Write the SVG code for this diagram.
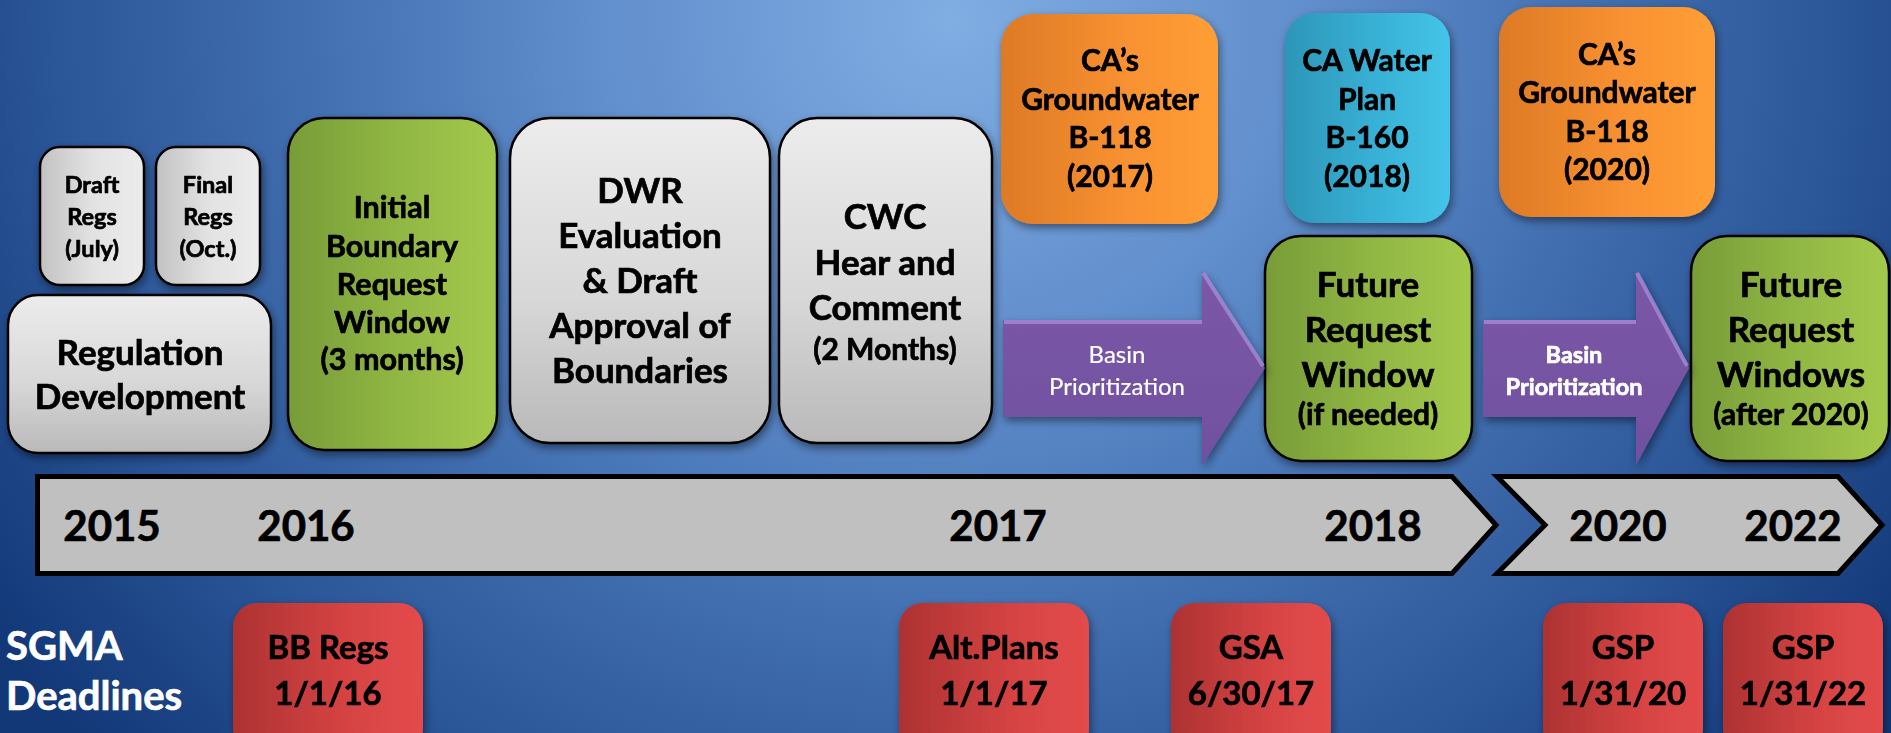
<svg xmlns="http://www.w3.org/2000/svg" width="1891" height="733" viewBox="0 0 1891 733">
<defs>
<radialGradient id="bg" gradientUnits="userSpaceOnUse" cx="950" cy="20" r="1150" gradientTransform="translate(950 20) scale(1 0.95) translate(-950 -20)">
<stop offset="0" stop-color="#80ade2"/>
<stop offset="0.3" stop-color="#628fcd"/>
<stop offset="0.55" stop-color="#4370b1"/>
<stop offset="0.78" stop-color="#2a5597"/>
<stop offset="1" stop-color="#123878"/>
</radialGradient>
<linearGradient id="grayH" x1="0" y1="0" x2="1" y2="0">
<stop offset="0" stop-color="#c2c2c2"/>
<stop offset="0.5" stop-color="#e2e2e2"/>
<stop offset="1" stop-color="#ececec"/>
</linearGradient>
<linearGradient id="grayV" x1="0" y1="0" x2="0" y2="1">
<stop offset="0" stop-color="#ececec"/>
<stop offset="0.55" stop-color="#d8d8d8"/>
<stop offset="1" stop-color="#b9b9b9"/>
</linearGradient>
<linearGradient id="green" x1="0" y1="0" x2="1" y2="0">
<stop offset="0" stop-color="#789c38"/>
<stop offset="0.6" stop-color="#94ba45"/>
<stop offset="1" stop-color="#a3c94c"/>
</linearGradient>
<linearGradient id="orange" x1="0" y1="0" x2="1" y2="0">
<stop offset="0" stop-color="#dd7a26"/>
<stop offset="0.6" stop-color="#f99231"/>
<stop offset="1" stop-color="#ff9e36"/>
</linearGradient>
<linearGradient id="cyan" x1="0" y1="0" x2="1" y2="0">
<stop offset="0" stop-color="#2c96b8"/>
<stop offset="0.6" stop-color="#39b3d8"/>
<stop offset="1" stop-color="#44c4e8"/>
</linearGradient>
<linearGradient id="red" x1="0" y1="0" x2="1" y2="0">
<stop offset="0" stop-color="#ad3232"/>
<stop offset="0.6" stop-color="#d64343"/>
<stop offset="1" stop-color="#e34b4b"/>
</linearGradient>
<linearGradient id="purple" x1="0" y1="0" x2="0" y2="1">
<stop offset="0" stop-color="#7c58a7"/>
<stop offset="1" stop-color="#7050a0"/>
</linearGradient>
<filter id="sh" x="-20%" y="-20%" width="140%" height="140%">
<feDropShadow dx="2" dy="4" stdDeviation="4" flood-color="#000" flood-opacity="0.45"/>
</filter>
<style>
.g{stroke:#000;stroke-width:2.5}
.t{font-family:Lato,"Liberation Sans",sans-serif;font-weight:bold;fill:#000;stroke:#000;stroke-width:0.7;text-anchor:middle}
.w{fill:#fff;stroke:#fff}
.n{font-weight:normal;stroke-width:0.2}
.bar{fill:#c0c0c0;stroke:#000;stroke-width:5;stroke-linejoin:miter}
.hl{fill:none;stroke:#a88ad6;stroke-width:4;stroke-opacity:0.8}
</style>
</defs>
<rect x="0" y="0" width="1891" height="733" fill="url(#bg)"/>

<g id="timeline">
<path class="bar" d="M37.5 476.5 H1452 L1496 525 L1452 573.5 H37.5 Z"/>
<path class="bar" d="M1497 476.5 H1838 L1882 525 L1838 573.5 H1497 L1545 525 Z"/>
<g class="t" font-size="42">
<text x="112" y="541">2015</text>
<text x="306" y="541">2016</text>
<text x="998" y="541">2017</text>
<text x="1373" y="541">2018</text>
<text x="1618" y="541">2020</text>
<text x="1793" y="541">2022</text>
</g>
</g>

<g id="draft-regs" filter="url(#sh)">
<rect class="g" x="40" y="147" width="104" height="138" rx="20" fill="url(#grayH)"/>
<text class="t" font-size="23.5"><tspan x="92" y="193">Draft</tspan><tspan x="92" y="225">Regs</tspan><tspan x="92" y="257">(July)</tspan></text>
</g>
<g id="final-regs" filter="url(#sh)">
<rect class="g" x="156" y="147" width="104" height="138" rx="20" fill="url(#grayH)"/>
<text class="t" font-size="23.5"><tspan x="208" y="193">Final</tspan><tspan x="208" y="225">Regs</tspan><tspan x="208" y="257">(Oct.)</tspan></text>
</g>
<g id="regulation-development" filter="url(#sh)">
<rect class="g" x="8" y="295" width="263" height="158" rx="30" fill="url(#grayV)"/>
<text class="t" font-size="35"><tspan x="140" y="365">Regulation</tspan><tspan x="140" y="409">Development</tspan></text>
</g>
<g id="initial-boundary" filter="url(#sh)">
<rect class="g" x="288" y="118" width="209" height="332" rx="36" fill="url(#green)"/>
<text class="t" font-size="30.5"><tspan x="392" y="218">Initial</tspan><tspan x="392" y="257">Boundary</tspan><tspan x="392" y="295">Request</tspan><tspan x="392" y="333">Window</tspan><tspan x="392" y="370">(3 months)</tspan></text>
</g>
<g id="dwr-evaluation" filter="url(#sh)">
<rect class="g" x="510" y="118" width="260" height="325" rx="40" fill="url(#grayV)"/>
<text class="t" font-size="35"><tspan x="640" y="203">DWR</tspan><tspan x="640" y="248">Evaluation</tspan><tspan x="640" y="293">&amp; Draft</tspan><tspan x="640" y="338">Approval of</tspan><tspan x="640" y="383">Boundaries</tspan></text>
</g>
<g id="cwc" filter="url(#sh)">
<rect class="g" x="779" y="118" width="213" height="325" rx="38" fill="url(#grayV)"/>
<text class="t" font-size="35"><tspan x="885" y="229">CWC</tspan><tspan x="885" y="275">Hear and</tspan><tspan x="885" y="320">Comment</tspan><tspan x="885" y="360" font-size="30">(2 Months)</tspan></text>
</g>
<g id="b118-2017" filter="url(#sh)">
<rect x="1001" y="14" width="217" height="210" rx="32" fill="url(#orange)"/>
<text class="t" font-size="30"><tspan x="1110" y="71">CA’s</tspan><tspan x="1110" y="110">Groundwater</tspan><tspan x="1110" y="148">B-118</tspan><tspan x="1110" y="187">(2017)</tspan></text>
</g>
<g id="b160-2018" filter="url(#sh)">
<rect x="1285" y="13" width="165" height="210" rx="30" fill="url(#cyan)"/>
<text class="t" font-size="30"><tspan x="1367" y="71">CA Water</tspan><tspan x="1367" y="110">Plan</tspan><tspan x="1367" y="148">B-160</tspan><tspan x="1367" y="187">(2018)</tspan></text>
</g>
<g id="b118-2020" filter="url(#sh)">
<rect x="1499" y="7" width="216" height="210" rx="32" fill="url(#orange)"/>
<text class="t" font-size="30"><tspan x="1607" y="65">CA’s</tspan><tspan x="1607" y="103">Groundwater</tspan><tspan x="1607" y="142">B-118</tspan><tspan x="1607" y="180">(2020)</tspan></text>
</g>
<g id="future-request-window" filter="url(#sh)">
<rect class="g" x="1265" y="236" width="207" height="225" rx="36" fill="url(#green)"/>
<text class="t" font-size="35"><tspan x="1368" y="297">Future</tspan><tspan x="1368" y="342">Request</tspan><tspan x="1368" y="387">Window</tspan><tspan x="1368" y="425" font-size="30">(if needed)</tspan></text>
</g>
<g id="future-request-windows" filter="url(#sh)">
<rect class="g" x="1691" y="236" width="198" height="225" rx="36" fill="url(#green)"/>
<text class="t" font-size="35"><tspan x="1791" y="297">Future</tspan><tspan x="1791" y="342">Request</tspan><tspan x="1791" y="387">Windows</tspan><tspan x="1791" y="425" font-size="30">(after 2020)</tspan></text>
</g>

<g id="connectors">
<g id="basin-prioritization-1" filter="url(#sh)">
<path d="M1003 320 H1202 V271 L1265 368 L1202 465 V417 H1003 Z" fill="url(#purple)"/>
<path class="hl" d="M1004 322 H1202 M1203 273 L1263 366"/>
<text class="t w n" font-size="24"><tspan x="1117" y="363">Basin</tspan><tspan x="1117" y="395">Prioritization</tspan></text>
</g>
<g id="basin-prioritization-2" filter="url(#sh)">
<path d="M1483 320 H1636 V271 L1689 368 L1636 465 V417 H1483 Z" fill="url(#purple)"/>
<path class="hl" d="M1484 322 H1636 M1637 273 L1687 366"/>
<text class="t w" font-size="23.5"><tspan x="1574" y="363">Basin</tspan><tspan x="1574" y="395">Prioritization</tspan></text>
</g>
</g>

<g id="sgma-deadlines">
<text class="t w" font-size="40" style="text-anchor:start"><tspan x="6" y="660">SGMA</tspan><tspan x="6" y="710">Deadlines</tspan></text>
</g>
<g id="bb-regs" filter="url(#sh)">
<rect x="233" y="603" width="190" height="150" rx="24" fill="url(#red)"/>
<text class="t" font-size="33"><tspan x="328" y="659">BB Regs</tspan><tspan x="328" y="705">1/1/16</tspan></text>
</g>
<g id="alt-plans" filter="url(#sh)">
<rect x="899" y="603" width="190" height="150" rx="24" fill="url(#red)"/>
<text class="t" font-size="33"><tspan x="994" y="659">Alt.Plans</tspan><tspan x="994" y="705">1/1/17</tspan></text>
</g>
<g id="gsa" filter="url(#sh)">
<rect x="1171" y="603" width="160" height="150" rx="24" fill="url(#red)"/>
<text class="t" font-size="33"><tspan x="1251" y="659">GSA</tspan><tspan x="1251" y="705">6/30/17</tspan></text>
</g>
<g id="gsp-2020" filter="url(#sh)">
<rect x="1543" y="603" width="160" height="150" rx="24" fill="url(#red)"/>
<text class="t" font-size="33"><tspan x="1623" y="659">GSP</tspan><tspan x="1623" y="705">1/31/20</tspan></text>
</g>
<g id="gsp-2022" filter="url(#sh)">
<rect x="1723" y="603" width="160" height="150" rx="24" fill="url(#red)"/>
<text class="t" font-size="33"><tspan x="1803" y="659">GSP</tspan><tspan x="1803" y="705">1/31/22</tspan></text>
</g>
</svg>
